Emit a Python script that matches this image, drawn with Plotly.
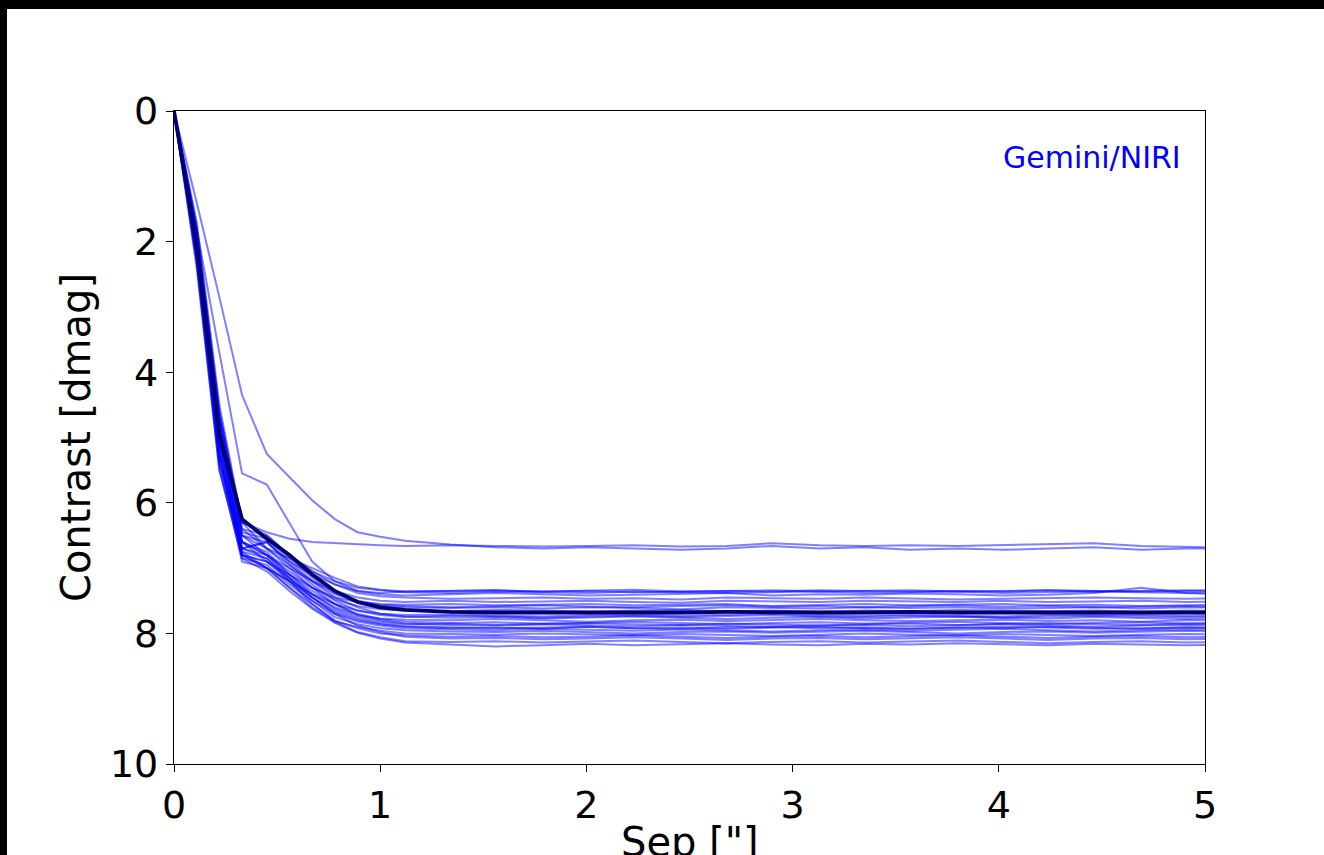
import plotly.graph_objects as go

# Separation grid [arcsec]
sep = [0, 0.11, 0.22, 0.33, 0.45, 0.56, 0.67, 0.78, 0.89, 1.0, 1.12, 1.34, 1.56, 1.79, 2.01,
       2.23, 2.46, 2.68, 2.9, 3.13, 3.35, 3.57, 3.8, 4.02, 4.24, 4.46, 4.69, 4.91, 5.13]

# Individual contrast curves [dmag]
c01 = [0, 1.4, 2.85, 4.35, 5.25, 5.6, 5.96, 6.25, 6.45, 6.52, 6.58, 6.64, 6.68, 6.70, 6.68, 6.70, 6.72, 6.70, 6.66, 6.70, 6.68, 6.72, 6.70, 6.72, 6.70, 6.68, 6.72, 6.70, 6.70]
c02 = [0, 1.8, 3.7, 5.55, 5.72, 6.3, 6.9, 7.2, 7.35, 7.38, 7.36, 7.35, 7.34, 7.36, 7.35, 7.33, 7.36, 7.35, 7.34, 7.36, 7.35, 7.34, 7.36, 7.35, 7.34, 7.36, 7.35, 7.34, 7.35]
c03 = [0, 1.9, 4.6, 6.3, 6.45, 6.55, 6.6, 6.62, 6.64, 6.65, 6.66, 6.65, 6.66, 6.67, 6.66, 6.65, 6.67, 6.66, 6.62, 6.65, 6.66, 6.65, 6.66, 6.65, 6.64, 6.62, 6.66, 6.68, 6.69]
c04 = [0, 2.0, 4.9, 6.5, 6.7, 6.85, 7.0, 7.15, 7.28, 7.33, 7.36, 7.35, 7.34, 7.36, 7.35, 7.37, 7.36, 7.35, 7.36, 7.34, 7.35, 7.36, 7.35, 7.36, 7.34, 7.35, 7.36, 7.35, 7.34]
c05 = [0, 2.2, 5.2, 6.7, 6.6, 6.9, 7.1, 7.25, 7.35, 7.4, 7.42, 7.4, 7.38, 7.4, 7.42, 7.41, 7.4, 7.38, 7.42, 7.4, 7.41, 7.39, 7.4, 7.42, 7.41, 7.38, 7.3, 7.38, 7.41]
c06 = [0, 1.9, 4.7, 6.3, 6.5, 6.8, 7.05, 7.25, 7.38, 7.43, 7.45, 7.47, 7.46, 7.45, 7.47, 7.46, 7.48, 7.45, 7.46, 7.47, 7.45, 7.46, 7.48, 7.47, 7.46, 7.45, 7.46, 7.47, 7.46]
c07 = [0, 2.1, 5.0, 6.6, 6.8, 7.0, 7.2, 7.35, 7.45, 7.5, 7.52, 7.5, 7.52, 7.51, 7.5, 7.52, 7.53, 7.5, 7.51, 7.52, 7.5, 7.51, 7.52, 7.5, 7.52, 7.51, 7.5, 7.52, 7.51]
c08 = [0, 2.3, 5.3, 6.8, 6.9, 7.1, 7.3, 7.45, 7.52, 7.55, 7.56, 7.55, 7.57, 7.56, 7.55, 7.57, 7.56, 7.55, 7.58, 7.56, 7.55, 7.57, 7.56, 7.55, 7.57, 7.56, 7.58, 7.57, 7.56]
c09 = [0, 1.8, 4.6, 6.4, 6.7, 6.95, 7.2, 7.4, 7.52, 7.58, 7.6, 7.61, 7.6, 7.62, 7.6, 7.61, 7.63, 7.6, 7.61, 7.62, 7.6, 7.61, 7.6, 7.62, 7.61, 7.6, 7.62, 7.6, 7.61]
c10 = [0, 2.0, 5.1, 6.6, 6.8, 7.05, 7.3, 7.48, 7.58, 7.63, 7.65, 7.66, 7.64, 7.65, 7.67, 7.65, 7.64, 7.66, 7.65, 7.67, 7.65, 7.66, 7.64, 7.65, 7.66, 7.65, 7.67, 7.65, 7.66]
c11 = [0, 2.2, 5.4, 6.9, 7.0, 7.2, 7.4, 7.55, 7.65, 7.7, 7.72, 7.71, 7.72, 7.74, 7.72, 7.71, 7.73, 7.72, 7.7, 7.72, 7.73, 7.71, 7.72, 7.74, 7.72, 7.71, 7.72, 7.73, 7.72]
c12 = [0, 1.9, 4.8, 6.5, 6.6, 6.9, 7.2, 7.45, 7.6, 7.7, 7.74, 7.76, 7.75, 7.77, 7.76, 7.74, 7.76, 7.78, 7.76, 7.75, 7.77, 7.76, 7.74, 7.76, 7.77, 7.75, 7.76, 7.78, 7.76]
c13 = [0, 2.4, 5.5, 6.8, 6.9, 7.15, 7.4, 7.6, 7.72, 7.77, 7.79, 7.8, 7.78, 7.8, 7.82, 7.8, 7.79, 7.81, 7.8, 7.78, 7.8, 7.81, 7.8, 7.79, 7.81, 7.8, 7.82, 7.8, 7.8]
c14 = [0, 2.1, 5.0, 6.7, 6.8, 7.1, 7.35, 7.55, 7.7, 7.78, 7.82, 7.84, 7.83, 7.85, 7.84, 7.82, 7.84, 7.86, 7.84, 7.83, 7.85, 7.84, 7.82, 7.84, 7.86, 7.84, 7.83, 7.85, 7.84]
c15 = [0, 1.7, 4.5, 6.3, 6.7, 7.0, 7.3, 7.55, 7.72, 7.8, 7.85, 7.87, 7.88, 7.86, 7.88, 7.89, 7.87, 7.88, 7.9, 7.88, 7.87, 7.89, 7.88, 7.86, 7.88, 7.9, 7.88, 7.87, 7.88]
c16 = [0, 2.0, 5.2, 6.8, 7.0, 7.2, 7.45, 7.65, 7.78, 7.85, 7.89, 7.9, 7.92, 7.91, 7.9, 7.92, 7.93, 7.91, 7.9, 7.92, 7.91, 7.93, 7.92, 7.9, 7.91, 7.93, 7.92, 7.91, 7.92]
c17 = [0, 2.3, 5.5, 6.85, 6.95, 7.25, 7.5, 7.7, 7.82, 7.88, 7.92, 7.94, 7.95, 7.93, 7.95, 7.96, 7.94, 7.95, 7.97, 7.95, 7.94, 7.96, 7.95, 7.93, 7.95, 7.97, 7.95, 7.94, 7.95]
c18 = [0, 1.9, 4.9, 6.6, 6.9, 7.2, 7.5, 7.75, 7.86, 7.92, 7.95, 7.97, 7.98, 7.96, 7.98, 8.0, 7.98, 7.97, 7.99, 7.98, 7.96, 7.98, 8.0, 7.98, 7.97, 7.99, 7.98, 7.96, 7.98]
c19 = [0, 2.1, 5.1, 6.7, 6.85, 7.2, 7.55, 7.82, 7.9, 7.96, 8.0, 8.01, 8.02, 8.0, 8.02, 8.03, 8.01, 8.02, 8.04, 8.02, 8.0, 8.02, 8.03, 8.01, 8.02, 8.04, 8.02, 8.01, 8.02]
c20 = [0, 2.2, 5.3, 6.8, 7.0, 7.3, 7.55, 7.8, 7.92, 8.0, 8.03, 8.05, 8.04, 8.06, 8.05, 8.03, 8.05, 8.07, 8.05, 8.04, 8.06, 8.05, 8.03, 8.05, 8.07, 8.05, 8.04, 8.06, 8.05]
c21 = [0, 1.8, 4.7, 6.5, 6.8, 7.15, 7.45, 7.7, 7.88, 7.98, 8.05, 8.08, 8.07, 8.09, 8.08, 8.06, 8.08, 8.1, 8.08, 8.07, 8.09, 8.08, 8.06, 8.08, 8.1, 8.08, 8.07, 8.09, 8.08]
c22 = [0, 2.0, 5.0, 6.75, 7.0, 7.3, 7.6, 7.82, 7.98, 8.06, 8.12, 8.13, 8.12, 8.14, 8.13, 8.11, 8.13, 8.15, 8.13, 8.12, 8.14, 8.13, 8.11, 8.13, 8.15, 8.13, 8.12, 8.14, 8.13]
c23 = [0, 2.1, 5.2, 6.85, 7.05, 7.35, 7.62, 7.84, 7.99, 8.08, 8.14, 8.17, 8.2, 8.18, 8.16, 8.18, 8.17, 8.15, 8.17, 8.18, 8.16, 8.17, 8.15, 8.17, 8.18, 8.16, 8.17, 8.18, 8.17]
c24 = [0, 2.3, 5.4, 6.7, 6.6, 6.95, 7.25, 7.5, 7.65, 7.72, 7.75, 7.73, 7.74, 7.76, 7.74, 7.73, 7.75, 7.74, 7.72, 7.74, 7.75, 7.73, 7.74, 7.76, 7.74, 7.73, 7.74, 7.75, 7.74]
c25 = [0, 1.9, 4.8, 6.45, 6.55, 6.85, 7.15, 7.38, 7.5, 7.56, 7.58, 7.6, 7.58, 7.57, 7.59, 7.6, 7.58, 7.57, 7.59, 7.58, 7.6, 7.58, 7.57, 7.59, 7.58, 7.6, 7.59, 7.58, 7.6]
c26 = [0, 2.2, 5.3, 6.75, 6.85, 7.15, 7.45, 7.68, 7.8, 7.86, 7.9, 7.92, 7.91, 7.93, 7.9, 7.92, 7.91, 7.93, 7.92, 7.9, 7.92, 7.93, 7.91, 7.92, 7.9, 7.92, 7.93, 7.91, 7.92]
c27 = [0, 2.0, 5.0, 6.6, 6.75, 7.1, 7.4, 7.62, 7.75, 7.82, 7.86, 7.85, 7.87, 7.86, 7.84, 7.86, 7.87, 7.85, 7.86, 7.88, 7.86, 7.85, 7.87, 7.86, 7.84, 7.86, 7.87, 7.85, 7.86]
c28 = [0, 1.8, 4.7, 6.4, 6.5, 6.8, 7.05, 7.2, 7.3, 7.34, 7.37, 7.38, 7.36, 7.37, 7.38, 7.36, 7.37, 7.38, 7.37, 7.36, 7.38, 7.37, 7.36, 7.38, 7.37, 7.36, 7.37, 7.38, 7.37]

# Mean curve (thick dark line)
mean_curve = [0, 2.05, 4.95, 6.25, 6.55, 6.8, 7.1, 7.35, 7.52, 7.6, 7.64, 7.67, 7.68, 7.68, 7.69, 7.68, 7.68, 7.67, 7.68, 7.68, 7.68, 7.67, 7.68, 7.68, 7.68, 7.67, 7.68, 7.68, 7.68]

curves = [c01, c02, c03, c04, c05, c06, c07, c08, c09, c10, c11, c12, c13, c14,
          c15, c16, c17, c18, c19, c20, c21, c22, c23, c24, c25, c26, c27, c28]

x_ticks = [0, 1, 2, 3, 4, 5]
y_ticks = [0, 2, 4, 6, 8, 10]
instrument_label = "Gemini/NIRI"
x_title = "Sep [\"]"
y_title = "Contrast [dmag]"

fig = go.Figure()
for c in curves:
    fig.add_trace(go.Scatter(x=sep, y=c, mode="lines",
                             line=dict(color="rgba(0,0,255,0.5)", width=2),
                             showlegend=False, hoverinfo="skip"))
fig.add_trace(go.Scatter(x=sep, y=mean_curve, mode="lines",
                         line=dict(color="#00006a", width=3.8),
                         showlegend=False, hoverinfo="skip"))

W, H = 1324, 855
L, R, T, B = 174, 119, 111, 91
pw, ph = W - L - R, H - T - B

def px_to_paper_x(px):
    return (px - L) / pw

def px_to_paper_y(py):
    return (H - B - py) / ph

fig.add_shape(type="rect", xref="paper", yref="paper",
              x0=px_to_paper_x(7), x1=px_to_paper_x(W + 5),
              y0=px_to_paper_y(H + 5), y1=px_to_paper_y(9),
              fillcolor="white", line=dict(width=0), layer="below")

fig.add_annotation(text=instrument_label, xref="paper", yref="paper",
                   x=px_to_paper_x(1183), y=px_to_paper_y(157),
                   xanchor="right", yanchor="middle", showarrow=False,
                   font=dict(family="DejaVu Sans", size=30, color="#0000ff"))

fig.add_annotation(text=x_title, xref="paper", yref="paper",
                   x=0.5, y=px_to_paper_y(842),
                   xanchor="center", yanchor="middle", showarrow=False,
                   font=dict(family="DejaVu Sans", size=40, color="black"))

axis_common = dict(showline=True, linecolor="black", linewidth=1.3, mirror=True,
                   ticks="outside", ticklen=7, tickwidth=1.3, tickcolor="black",
                   showgrid=False, zeroline=False,
                   tickfont=dict(family="DejaVu Sans", size=38, color="black"))

fig.update_xaxes(range=[0, 5], tickvals=x_ticks, ticktext=[str(v) for v in x_ticks],
                 **axis_common)
fig.update_yaxes(range=[10, 0], tickvals=y_ticks, ticktext=[str(v) for v in y_ticks],
                 title=dict(text=y_title, standoff=6,
                            font=dict(family="DejaVu Sans", size=40, color="black")),
                 **axis_common)

fig.update_layout(width=W, height=H, margin=dict(l=L, r=R, t=T, b=B, autoexpand=False),
                  paper_bgcolor="black", plot_bgcolor="white")

fig.write_html("out.html")
